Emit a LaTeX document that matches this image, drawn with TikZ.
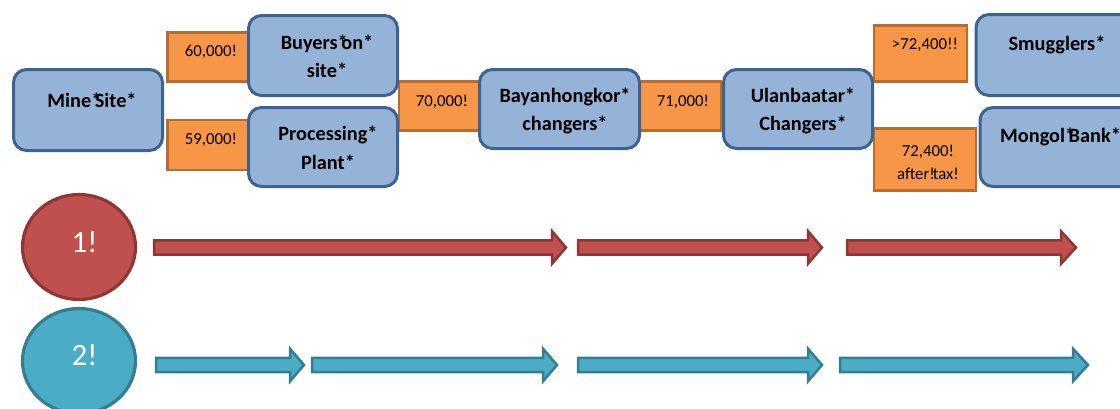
\documentclass[tikz,border=0pt]{standalone}
\usepackage{fontspec}
\setmainfont{Carlito}
\usetikzlibrary{shapes.geometric}
\definecolor{boxfill}{HTML}{95B3D7}
\definecolor{boxline}{HTML}{3D6393}
\definecolor{orfill}{HTML}{F79646}
\definecolor{orline}{HTML}{B66D31}
\definecolor{redfill}{HTML}{C0504D}
\definecolor{redline}{HTML}{8C3836}
\definecolor{tealfill}{HTML}{4BACC6}
\definecolor{tealline}{HTML}{357D91}
\newcommand\fatarrow[5]{%
  \draw[#1] (#2,#5-7.2) -- (#3,#5-7.2) -- (#3,#5-16.3) -- (#4,#5)
    -- (#3,#5+16.3) -- (#3,#5+7.2) -- (#2,#5+7.2) -- cycle;}
\newcommand\sk{\kern-0.32em}
\newcommand\skk{\kern-0.12em}
\tikzset{
  x=1pt, y=-1pt,
  bluebox/.style={draw=boxline, fill=boxfill, line width=3pt, rounded corners=13pt,
    minimum width=#1, inner sep=0pt},
  orbox/.style={draw=orline, fill=orfill, line width=2.6pt, inner sep=0pt},
  bl/.style={font={\fontsize{20.3}{28.5}\selectfont\bfseries}, align=center, inner sep=0pt},
  ol/.style={font={\fontsize{16.8}{23}\selectfont}, align=center, inner sep=0pt},
  circ/.style={ellipse, line width=3.2pt, minimum width=113pt, minimum height=105pt, inner sep=0pt},
  cl/.style={font={\fontsize{31}{36}\selectfont}, text=white, inner sep=0pt},
  redarrow/.style={draw=redline, fill=redfill, line width=2.5pt, line join=miter},
  tealarrow/.style={draw=tealline, fill=tealfill, line width=2.5pt, line join=miter},
}
\begin{document}
\begin{tikzpicture}
\useasboundingbox (0,0) rectangle (1120,408);
% orange price boxes
\node[orbox, minimum width=81pt, minimum height=49pt] (p60) at (208,57) {};
\node[orbox, minimum width=81pt, minimum height=50pt] (p59) at (208,145) {};
\node[orbox, minimum width=81pt, minimum height=49pt] (p70) at (439.5,106) {};
\node[orbox, minimum width=81pt, minimum height=49pt] (p71) at (680.5,106) {};
\node[orbox, minimum width=93pt, minimum height=56pt] (p72a) at (920.5,53.5) {};
\node[orbox, minimum width=102pt, minimum height=62pt] (p72b) at (925,159.5) {};
% blue boxes
\node[bluebox=149pt, minimum height=81pt] (mine) at (88,110) {};
\node[bluebox=149pt, minimum height=80pt] (buyers) at (323,55.5) {};
\node[bluebox=149pt, minimum height=79pt] (plant) at (323,147) {};
\node[bluebox=160pt, minimum height=79pt] (bayan) at (559.5,109) {};
\node[bluebox=149pt, minimum height=79pt] (ulan) at (798,109) {};
\node[bluebox=170pt, minimum height=81pt] (smug) at (1061,55) {};
\node[bluebox=170pt, minimum height=79pt] (bank) at (1065,147) {};
% labels
\node[ol] (t60) at (211,52) {60,000!};
\node[ol] (t59) at (211,140) {59,000!};
\node[ol] (t70) at (442,102) {70,000!};
\node[ol] (t71) at (683,102) {71,000!};
\node[ol] (t72a) at (925,45) {>72,400!!};
\node[ol] (t72b) at (928,162.5) {72,400!\\after!\skk tax!};
\node[bl] (tmine) at (92,100) {Mine*\sk Site*};
\node[bl] (tbuy) at (327,56.5) {Buyers*\sk on*\\site*};
\node[bl] (tplant) at (328,148) {Processing*\\Plant*};
\node[bl] (tbayan) at (565,111) {Bayanhongkor*\\changers*};
\node[bl] (tulan) at (803,111) {Ulanbaatar*\\Changers*};
\node[bl] (tsmug) at (1057,45) {Smugglers*};
\node[bl, anchor=west] (tbank) at (1000,137) {Mongol*\sk Bank*};
% circles
\node[circ, draw=redline, fill=redfill] (c1) at (79,247) {};
\node[circ, draw=tealline, fill=tealfill] (c2) at (79,361) {};
\node[cl] (n1) at (84.5,242) {1!};
\node[cl] (n2) at (84.5,355) {2!};
% arrows
\fatarrow{redarrow}{154}{552}{566}{247.5}
\fatarrow{redarrow}{578}{808}{822}{247.5}
\fatarrow{redarrow}{847}{1061}{1076}{247.5}
\fatarrow{tealarrow}{156}{290}{304}{365}
\fatarrow{tealarrow}{312}{543}{557}{365}
\fatarrow{tealarrow}{578}{808}{822}{365}
\fatarrow{tealarrow}{840}{1073}{1088}{365}
\end{tikzpicture}
\end{document}
